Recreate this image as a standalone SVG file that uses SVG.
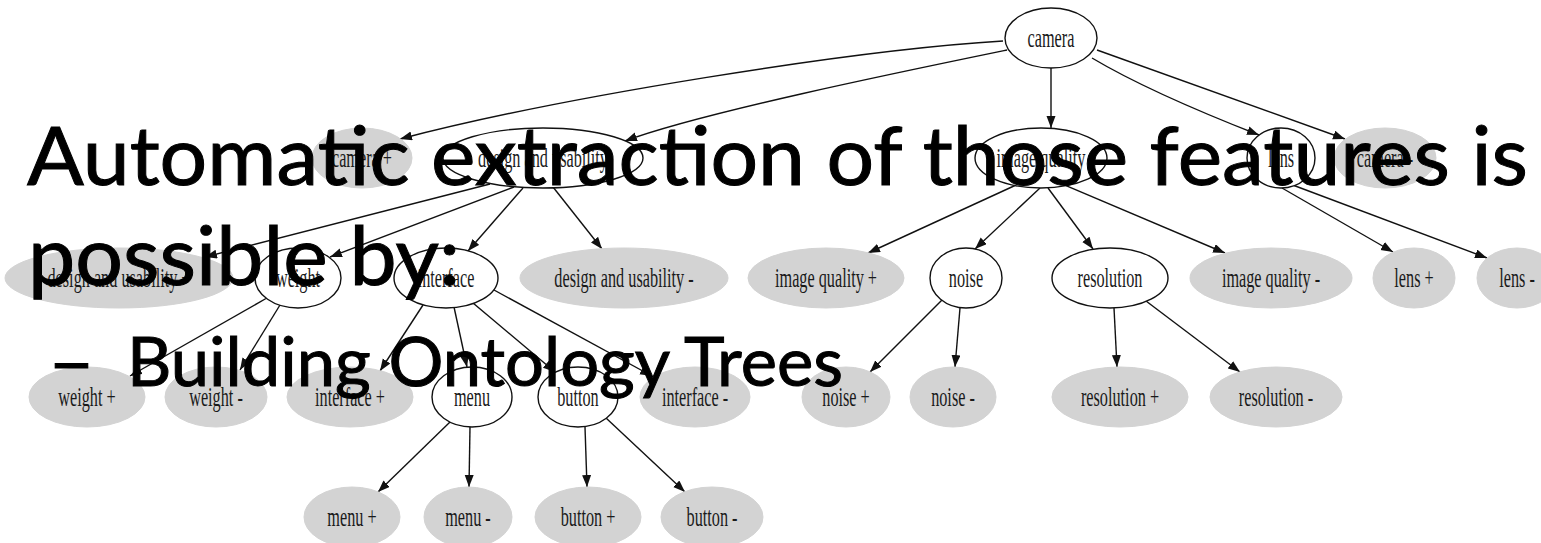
<svg xmlns="http://www.w3.org/2000/svg" width="1541" height="543" viewBox="0 0 1541 543">
<style>
.bg{fill:#fff}
.w{fill:#fff;stroke:#111;stroke-width:1.4}
.g{fill:#d3d3d3;stroke:#d3d3d3;stroke-width:1}
.lbl{font-family:"Liberation Serif","Times New Roman",serif;font-size:28px;fill:#1a1a1a;text-anchor:middle}
.e{fill:none;stroke:#111;stroke-width:1.4;marker-end:url(#ah)}
.big{font-family:Lato,"Open Sans",sans-serif;fill:#000;stroke:#000;stroke-width:1}
</style>
<defs>
<marker id="ah" markerUnits="userSpaceOnUse" markerWidth="13" markerHeight="10" refX="12" refY="4.5" orient="auto" viewBox="0 0 13 10">
<path d="M0,0 L12,4.5 L0,9 z" fill="#111"/>
</marker>
</defs>
<rect class="bg" width="1541" height="543"/>
<g id="connectors">
<path class="e" d="M1003,41 C853,50 560,97 400,139"/>
<path class="e" d="M1007,50 C900,72 700,113 625,141"/>
<path class="e" d="M1051,68 L1051,128"/>
<path class="e" d="M1092,58 Q1149,92 1259,135"/>
<path class="e" d="M1097,50 L1345,139"/>
<path class="e" d="M490,184 L205,257"/>
<path class="e" d="M514,187 L330,257"/>
<path class="e" d="M523,188 L468,251"/>
<path class="e" d="M553,187 L602,249"/>
<path class="e" d="M1015,185.5 L868,253"/>
<path class="e" d="M1040,188 L975,249"/>
<path class="e" d="M1048,188 L1093,249"/>
<path class="e" d="M1066,185.7 L1225,253"/>
<path class="e" d="M1282,188 L1393,252"/>
<path class="e" d="M1294,185.5 L1487,258"/>
<path class="e" d="M266,298.5 L130,376"/>
<path class="e" d="M280,305 L240,370"/>
<path class="e" d="M423,305 L380,371"/>
<path class="e" d="M454,307 L467,367"/>
<path class="e" d="M473,303 L555,372"/>
<path class="e" d="M494,290 L652,376"/>
<path class="e" d="M942,300 L870,372"/>
<path class="e" d="M960,308 L955,367"/>
<path class="e" d="M1114,308 L1117,367"/>
<path class="e" d="M1146,301 L1240,372"/>
<path class="e" d="M450,422 L378,492"/>
<path class="e" d="M470,427 L469,487"/>
<path class="e" d="M585,427 L587,487"/>
<path class="e" d="M606,418 L685,492"/>
</g>
<g id="camera"><ellipse class="w" cx="1051" cy="38" rx="46" ry="30"/><text class="lbl" transform="translate(1051,47) scale(0.58,1)">camera</text></g>
<g id="camera_pos"><ellipse class="g" cx="362" cy="158" rx="50" ry="30"/><text class="lbl" transform="translate(362,167) scale(0.58,1)">camera +</text></g>
<g id="design_usability"><ellipse class="w" cx="543" cy="158" rx="100" ry="30"/><text class="lbl" transform="translate(543,167) scale(0.58,1)">design and usability</text></g>
<g id="image_quality"><ellipse class="w" cx="1041" cy="158" rx="66" ry="30"/><text class="lbl" transform="translate(1041,167) scale(0.58,1)">image quality</text></g>
<g id="lens"><ellipse class="w" cx="1281" cy="158" rx="34" ry="30"/><text class="lbl" transform="translate(1281,167) scale(0.58,1)">lens</text></g>
<g id="camera_neg"><ellipse class="g" cx="1385" cy="158" rx="51" ry="30"/><text class="lbl" transform="translate(1385,167) scale(0.58,1)">camera -</text></g>
<g id="design_usability_pos"><ellipse class="g" cx="119" cy="278" rx="114" ry="30"/><text class="lbl" transform="translate(119,287) scale(0.58,1)">design and usability +</text></g>
<g id="weight"><ellipse class="w" cx="298" cy="278" rx="43" ry="30"/><text class="lbl" transform="translate(298,287) scale(0.58,1)">weight</text></g>
<g id="interface"><ellipse class="w" cx="446" cy="278" rx="52" ry="30"/><text class="lbl" transform="translate(446,287) scale(0.58,1)">interface</text></g>
<g id="design_usability_neg"><ellipse class="g" cx="624" cy="278" rx="104" ry="30"/><text class="lbl" transform="translate(624,287) scale(0.58,1)">design and usability -</text></g>
<g id="image_quality_pos"><ellipse class="g" cx="826" cy="278" rx="78" ry="30"/><text class="lbl" transform="translate(826,287) scale(0.58,1)">image quality +</text></g>
<g id="noise"><ellipse class="w" cx="966" cy="278" rx="36" ry="30"/><text class="lbl" transform="translate(966,287) scale(0.58,1)">noise</text></g>
<g id="resolution"><ellipse class="w" cx="1110" cy="278" rx="58" ry="30"/><text class="lbl" transform="translate(1110,287) scale(0.58,1)">resolution</text></g>
<g id="image_quality_neg"><ellipse class="g" cx="1271" cy="278" rx="81" ry="30"/><text class="lbl" transform="translate(1271,287) scale(0.58,1)">image quality -</text></g>
<g id="lens_pos"><ellipse class="g" cx="1414" cy="278" rx="41" ry="30"/><text class="lbl" transform="translate(1414,287) scale(0.58,1)">lens +</text></g>
<g id="lens_neg"><ellipse class="g" cx="1517" cy="278" rx="40" ry="30"/><text class="lbl" transform="translate(1517,287) scale(0.58,1)">lens -</text></g>
<g id="weight_pos"><ellipse class="g" cx="87" cy="397" rx="58" ry="30"/><text class="lbl" transform="translate(87,406) scale(0.58,1)">weight +</text></g>
<g id="weight_neg"><ellipse class="g" cx="216" cy="397" rx="51" ry="30"/><text class="lbl" transform="translate(216,406) scale(0.58,1)">weight -</text></g>
<g id="interface_pos"><ellipse class="g" cx="350" cy="397" rx="63" ry="30"/><text class="lbl" transform="translate(350,406) scale(0.58,1)">interface +</text></g>
<g id="menu"><ellipse class="w" cx="472" cy="397" rx="40" ry="30"/><text class="lbl" transform="translate(472,406) scale(0.58,1)">menu</text></g>
<g id="button"><ellipse class="w" cx="578" cy="397" rx="40" ry="30"/><text class="lbl" transform="translate(578,406) scale(0.58,1)">button</text></g>
<g id="interface_neg"><ellipse class="g" cx="695" cy="397" rx="55" ry="30"/><text class="lbl" transform="translate(695,406) scale(0.58,1)">interface -</text></g>
<g id="noise_pos"><ellipse class="g" cx="846" cy="397" rx="44" ry="30"/><text class="lbl" transform="translate(846,406) scale(0.58,1)">noise +</text></g>
<g id="noise_neg"><ellipse class="g" cx="953" cy="397" rx="43" ry="30"/><text class="lbl" transform="translate(953,406) scale(0.58,1)">noise -</text></g>
<g id="resolution_pos"><ellipse class="g" cx="1120" cy="397" rx="68" ry="30"/><text class="lbl" transform="translate(1120,406) scale(0.58,1)">resolution +</text></g>
<g id="resolution_neg"><ellipse class="g" cx="1276" cy="397" rx="66" ry="30"/><text class="lbl" transform="translate(1276,406) scale(0.58,1)">resolution -</text></g>
<g id="menu_pos"><ellipse class="g" cx="352" cy="517" rx="48" ry="30"/><text class="lbl" transform="translate(352,526) scale(0.58,1)">menu +</text></g>
<g id="menu_neg"><ellipse class="g" cx="468" cy="517" rx="44" ry="30"/><text class="lbl" transform="translate(468,526) scale(0.58,1)">menu -</text></g>
<g id="button_pos"><ellipse class="g" cx="588" cy="517" rx="53" ry="30"/><text class="lbl" transform="translate(588,526) scale(0.58,1)">button +</text></g>
<g id="button_neg"><ellipse class="g" cx="712" cy="517" rx="51" ry="30"/><text class="lbl" transform="translate(712,526) scale(0.58,1)">button -</text></g>
<g id="slide_text">
<text class="big" x="27" y="185" font-size="82" textLength="1501" lengthAdjust="spacingAndGlyphs">Automatic extraction of those features is</text>
<text class="big" x="28" y="285" font-size="82" textLength="432" lengthAdjust="spacingAndGlyphs">possible by:</text>
<text class="big" x="48" y="386" font-size="67" textLength="47" lengthAdjust="spacingAndGlyphs">–</text>
<text class="big" x="127" y="386" font-size="67" textLength="716" lengthAdjust="spacingAndGlyphs">Building Ontology Trees</text>
</g>
</svg>
